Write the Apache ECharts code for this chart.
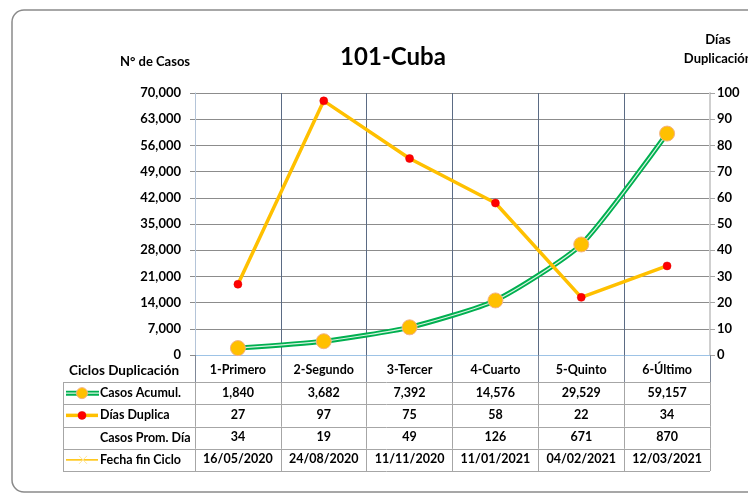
<!DOCTYPE html>
<html>
<head>
<meta charset="utf-8">
<script src="https://cdn.jsdelivr.net/npm/echarts@6/dist/echarts.min.js"></script>
<style>
html,body{margin:0;padding:0;background:#fff;}
#chart{width:748px;height:495px;}
</style>
</head>
<body>
<div id="chart"></div>
<script>
// ---- Data ----
const categories = ['1-Primero', '2-Segundo', '3-Tercer', '4-Cuarto', '5-Quinto', '6-Último'];
const casosAcumul = [1840, 3682, 7392, 14576, 29529, 59157];
const diasDuplica = [27, 97, 75, 58, 22, 34];
const casosPromDia = [34, 19, 49, 126, 671, 870];
const fechaFinCiclo = ['16/05/2020', '24/08/2020', '11/11/2020', '11/01/2021', '04/02/2021', '12/03/2021'];
const rowLabels = ['Casos Acumul.', 'Días Duplica', 'Casos Prom. Día', 'Fecha fin Ciclo'];
const leftAxis = { min: 0, max: 70000, interval: 7000 };
const rightAxis = { min: 0, max: 100, interval: 10 };
const titleText = '101-Cuba';
const leftAxisName = 'N° de Casos';
const rightAxisName = 'Días\nDuplicación';
const tableHeader = 'Ciclos Duplicación';

// ---- Layout ----
const FONT = 'Lato, "Open Sans", sans-serif';
const gridL = 195, gridR = 710, gridT = 93, gridB = 355;
const tableTop = 382, rowH = 22.25, tableLeft = 63;
const fmt = v => v.toLocaleString('en-US');

const rowData = [
  casosAcumul.map(fmt),
  diasDuplica.map(String),
  casosPromDia.map(String),
  fechaFinCiclo
];

const labelStyle = { color: '#000', fontFamily: FONT, fontWeight: 'bold', fontSize: 12.5 };

const xAxes = [
  {
    type: 'category', data: categories, position: 'bottom', boundaryGap: true,
    axisLine: { show: true, lineStyle: { color: '#8c8c8c', width: 1 } },
    axisTick: { show: true, length: tableTop - gridB, lineStyle: { color: '#7f8898' } },
    axisLabel: Object.assign({ margin: 8, interval: 0 }, labelStyle),
    splitLine: { show: true, lineStyle: { color: '#5b6b84', width: 1 } }
  },
  {
    type: 'category', data: categories, position: 'top', boundaryGap: true,
    axisLine: { show: true, lineStyle: { color: '#9dc3e6', width: 1 } },
    axisTick: { show: false }, axisLabel: { show: false }, splitLine: { show: false }
  }
];
rowData.forEach((row, k) => {
  xAxes.push({
    type: 'category', data: row, position: 'bottom', boundaryGap: true,
    offset: tableTop - gridB + k * rowH,
    axisLine: { show: false },
    axisTick: { show: true, length: rowH, lineStyle: { color: '#a6a6a6' } },
    axisLabel: Object.assign({ margin: 4, interval: 0 }, labelStyle),
    splitLine: { show: false }
  });
});

// Graphic: frame, table lines, legend column
const graphics = [
  { type: 'rect', shape: { x: 12, y: 10, width: 800, height: 482, r: 12 },
    style: { fill: 'none', stroke: '#8a8a8a', lineWidth: 1.5 }, silent: true, z: 0 }
];
for (let i = 0; i <= rowData.length; i++) {
  const y = Math.round(tableTop + i * rowH) + 0.5;
  graphics.push({ type: 'line', shape: { x1: tableLeft, y1: y, x2: gridR, y2: y },
    style: { stroke: '#a6a6a6', lineWidth: 1 }, silent: true });
}
graphics.push({ type: 'line', shape: { x1: tableLeft + 0.5, y1: tableTop + 0.5, x2: tableLeft + 0.5, y2: Math.round(tableTop + 4 * rowH) + 0.5 },
  style: { stroke: '#a6a6a6', lineWidth: 1 }, silent: true });

rowLabels.forEach((lab, k) => {
  const cy = tableTop + (k + 0.5) * rowH;
  graphics.push({ type: 'text', x: 100, y: cy, silent: true,
    style: { text: lab, fill: '#000', font: 'bold 12.5px ' + FONT, textVerticalAlign: 'middle', textAlign: 'left' } });
  if (k === 0) {
    graphics.push({ type: 'line', shape: { x1: 66, y1: cy, x2: 99, y2: cy }, style: { stroke: '#00b050', lineWidth: 5 }, silent: true });
    graphics.push({ type: 'line', shape: { x1: 66, y1: cy, x2: 99, y2: cy }, style: { stroke: '#d8f3e2', lineWidth: 1.2 }, silent: true });
    graphics.push({ type: 'circle', shape: { cx: 82, cy: cy, r: 5.5 }, style: { fill: '#ffc000', stroke: '#f4b183', lineWidth: 1 }, silent: true });
  } else if (k === 1) {
    graphics.push({ type: 'line', shape: { x1: 66, y1: cy, x2: 98, y2: cy }, style: { stroke: '#ffc000', lineWidth: 3.5 }, silent: true });
    graphics.push({ type: 'circle', shape: { cx: 82, cy: cy, r: 4 }, style: { fill: '#ff0000', stroke: '#e00000', lineWidth: 0.5 }, silent: true });
  } else if (k === 3) {
    graphics.push({ type: 'line', shape: { x1: 66, y1: cy, x2: 98, y2: cy }, style: { stroke: '#ffc000', lineWidth: 1.5 }, silent: true });
    graphics.push({ type: 'line', shape: { x1: 79, y1: cy - 4, x2: 87, y2: cy + 4 }, style: { stroke: '#ffe699', lineWidth: 1 }, silent: true });
    graphics.push({ type: 'line', shape: { x1: 79, y1: cy + 4, x2: 87, y2: cy - 4 }, style: { stroke: '#ffe699', lineWidth: 1 }, silent: true });
  }
});
graphics.push({ type: 'text', x: 124, y: 371, silent: true,
  style: { text: tableHeader, fill: '#000', font: 'bold 13.5px ' + FONT, textAlign: 'center', textVerticalAlign: 'middle' } });
graphics.push({ type: 'text', x: 393, y: 57, silent: true,
  style: { text: titleText, fill: '#000', font: 'bold 24px ' + FONT, textAlign: 'center', textVerticalAlign: 'middle' } });
graphics.push({ type: 'text', x: 155, y: 62, silent: true,
  style: { text: leftAxisName, fill: '#000', font: 'bold 13px ' + FONT, textAlign: 'center', textVerticalAlign: 'middle' } });
graphics.push({ type: 'text', x: 718, y: 49, silent: true,
  style: { text: rightAxisName, fill: '#000', font: 'bold 13px ' + FONT, textAlign: 'center', textVerticalAlign: 'middle', lineHeight: 19 } });

const chart = echarts.init(document.getElementById('chart'), null, { renderer: 'canvas' });
chart.setOption({
  backgroundColor: '#fff',
  animation: false,
  grid: { left: gridL, right: 748 - gridR, top: gridT, bottom: 495 - gridB, containLabel: false },
  xAxis: xAxes,
  yAxis: [
    {
      type: 'value', min: leftAxis.min, max: leftAxis.max, interval: leftAxis.interval, position: 'left',
      axisLine: { show: true, lineStyle: { color: '#b4c4d8', width: 1 } },
      axisTick: { show: true, length: 5, lineStyle: { color: '#8c8c8c' } },
      axisLabel: { margin: 14, formatter: v => fmt(v), color: '#000', fontFamily: FONT, fontWeight: 'bold', fontSize: 13 },
      splitLine: { show: true, lineStyle: { color: '#8c8c8c', width: 1 } }
    },
    {
      type: 'value', min: rightAxis.min, max: rightAxis.max, interval: rightAxis.interval, position: 'right',
      axisLine: { show: true, lineStyle: { color: '#cfcfcf', width: 2 } },
      axisTick: { show: true, length: 5, lineStyle: { color: '#a6a6a6' } },
      axisLabel: { margin: 7, color: '#000', fontFamily: FONT, fontWeight: 'bold', fontSize: 13 },
      splitLine: { show: false }
    }
  ],
  series: [
    {
      name: 'Casos Acumul. outer', type: 'line', xAxisIndex: 0, yAxisIndex: 0, data: casosAcumul,
      smooth: 0.2, showSymbol: false, symbol: 'none',
      lineStyle: { color: '#00b050', width: 5 }, z: 2
    },
    {
      name: 'Casos Acumul.', type: 'line', xAxisIndex: 0, yAxisIndex: 0, data: casosAcumul,
      smooth: 0.2, symbol: 'circle', symbolSize: 15,
      itemStyle: { color: '#ffc000', borderColor: '#f4b183', borderWidth: 1 },
      lineStyle: { color: '#d8f3e2', width: 1.2 }, z: 3
    },
    {
      name: 'Días Duplica', type: 'line', xAxisIndex: 0, yAxisIndex: 1, data: diasDuplica,
      symbol: 'circle', symbolSize: 8,
      itemStyle: { color: '#ff0000', borderColor: '#e00000', borderWidth: 0.5 },
      lineStyle: { color: '#ffc000', width: 3.5 }, z: 4
    }
  ],
  graphic: graphics
});
</script>
</body>
</html>
